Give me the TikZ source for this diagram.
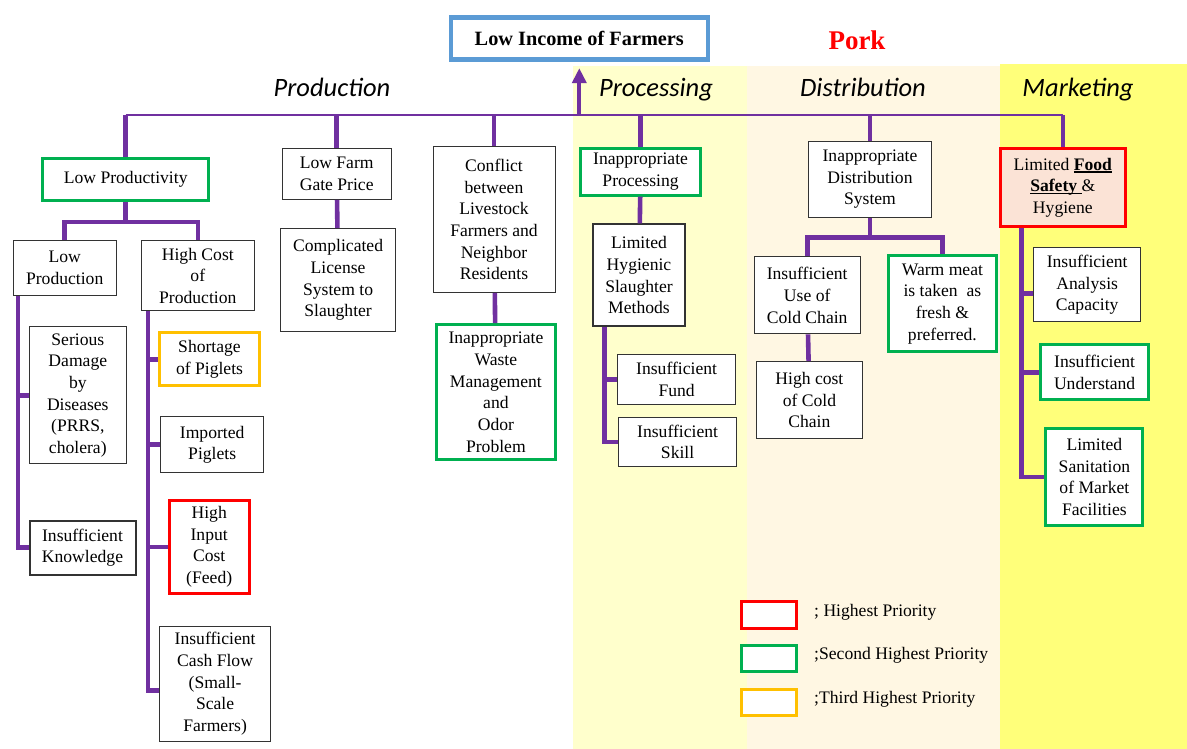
\documentclass[tikz,border=0pt]{standalone}
\usepackage{fontspec}
\setmainfont{Liberation Serif}
\newfontfamily\headfont{Carlito}
\usetikzlibrary{arrows.meta}

\definecolor{treepurple}{HTML}{7030A0}
\definecolor{prigreen}{HTML}{00B050}
\definecolor{prired}{HTML}{FF0000}
\definecolor{priorange}{HTML}{FFC000}
\definecolor{topblue}{HTML}{5B9BD5}
\definecolor{procband}{HTML}{FFFFCC}
\definecolor{distband}{HTML}{FFF7E3}
\definecolor{markband}{HTML}{FFFF7A}
\definecolor{safetyfill}{HTML}{FBE3D6}

% underline sitting just under the baseline
\newcommand\baseul[1]{\setbox0=\hbox{#1}\rlap{\rule[-2.6pt]{\wd0}{1.3pt}}\box0}

\begin{document}
\begin{tikzpicture}[x=1pt,y=-1pt,
  cause/.style={draw=black!80, line width=1pt, fill=white, align=center, inner sep=0pt,
    font=\fontsize{17.6}{21.7}\selectfont},
  topprio/.style={cause, draw=prired, line width=3pt},
  secondprio/.style={cause, draw=prigreen, line width=3pt},
  thirdprio/.style={cause, draw=priorange, line width=3pt},
  bus/.style={draw=treepurple, line width=2.7pt},
  branch/.style={draw=treepurple, line width=4.6pt},
  stage/.style={anchor=base, font=\headfont\itshape\fontsize{26.5}{30}\selectfont},
  key/.style={anchor=west, inner sep=0pt, font=\fontsize{17.6}{21.7}\selectfont}]

\useasboundingbox (0,0) rectangle (1187,749);
\fill[white] (0,0) rectangle (1187,749);
\fill[procband] (573,66) rectangle (747,749);
\fill[distband] (747,66) rectangle (1000,749);
\fill[markband] (1000,64) rectangle (1187,749);

\node[cause, draw=topblue, line width=4.5pt, minimum width=257, minimum height=42,
  font=\bfseries\fontsize{20.3}{24}\selectfont] (income) at (579.3,38.4) {Low Income of Farmers};
\node[font=\bfseries\fontsize{27}{30}\selectfont, text=prired] (pork) at (857,40) {Pork};

\node[stage] (production) at (332,96.5) {Production};
\node[stage] (processing) at (656,96.5) {Processing};
\node[stage] (distribution) at (863,96.5) {Distribution};
\node[stage] (marketing) at (1078,96.5) {Marketing};

% production
\node[secondprio, minimum width=166, minimum height=42] (lowprod) at (125.7,179.4) {Low Productivity};
\node[cause, minimum width=103, minimum height=55] (lowprodn) at (64.7,267.5) {Low\\Production};
\node[cause, minimum width=113.5, minimum height=70] (highcost) at (197.8,275.9) {High Cost\\of\\Production};
\node[cause, minimum width=96.5, minimum height=137.3] (disease) at (77.8,395.3) {Serious\\Damage\\by\\Diseases\\(PRRS,\\cholera)};
\node[cause, line width=2pt, minimum width=106, minimum height=54] (knowledge) at (82.5,547.7) {Insufficient\\Knowledge};
\node[thirdprio, minimum width=100.7, minimum height=53] (piglets) at (209.5,359.3) {Shortage\\of Piglets};
\node[cause, minimum width=103, minimum height=56] (imported) at (212.2,444.7) {Imported\\Piglets};
\node[topprio, minimum width=80, minimum height=92.7] (feed) at (209.2,546.9) {High\\Input\\Cost\\(Feed)};
\node[cause, minimum width=111, minimum height=115.3] (cashflow) at (215.1,683.7) {Insufficient\\Cash Flow\\(Small-\\Scale\\Farmers)};
\node[cause, minimum width=108.6, minimum height=50.6] (gateprice) at (336.7,174) {Low Farm\\Gate Price};
\node[cause, minimum width=115, minimum height=102.6] (license) at (338.1,280) {Complicated\\License\\System to\\Slaughter};
\node[cause, minimum width=122, minimum height=145.6] (conflict) at (494,219.5) {Conflict\\between\\Livestock\\Farmers and\\Neighbor\\Residents};
\node[secondprio, minimum width=119, minimum height=135] (waste) at (495.9,392.2) {Inappropriate\\Waste\\Management\\and\\Odor\\Problem};

% processing
\node[secondprio, minimum width=120.6, minimum height=47] (inproc) at (640.6,171.7) {Inappropriate\\Processing};
\node[cause, line width=2pt, minimum width=92.2, minimum height=101.7] (hygienic) at (639,275.3) {Limited\\Hygienic\\Slaughter\\Methods};
\node[cause, minimum width=118, minimum height=50] (fund) at (676.6,379.3) {Insufficient\\Fund};
\node[cause, minimum width=118.4, minimum height=49.4] (skill) at (677.6,442) {Insufficient\\Skill};

% distribution
\node[cause, minimum width=123.2, minimum height=76] (distsys) at (870,179.3) {Inappropriate\\Distribution\\System};
\node[cause, minimum width=106.4, minimum height=77.3] (colduse) at (807.2,295.3) {Insufficient\\Use of\\Cold Chain};
\node[cause, minimum width=106.8, minimum height=77] (coldcost) at (809.4,400.2) {High cost\\of Cold\\Chain};
\node[secondprio, minimum width=107.4, minimum height=96.3] (warmmeat) at (942.4,303.7) {Warm meat\\is taken\ \ as\\fresh \&\\preferred.};

% marketing
\node[topprio, fill=safetyfill, minimum width=125, minimum height=78.6] (foodsafety) at (1062.8,187.5)
  {Limited \textbf{\baseul{Food}}\\\textbf{\baseul{Safety\ }}\&\\Hygiene};
\node[cause, minimum width=107.2, minimum height=73.7] (analysis) at (1087.2,284.8) {Insufficient\\Analysis\\Capacity};
\node[secondprio, minimum width=108.6, minimum height=55] (understand) at (1094.6,372.3) {Insufficient\\Understand};
\node[secondprio, minimum width=97, minimum height=96.4] (sanitation) at (1094.4,477) {Limited\\Sanitation\\of Market\\Facilities};

% tree
\coordinate (busw) at (125.7,115);
\coordinate (buse) at (1062.8,115);
\draw[bus] (busw) -- (buse);
\draw[-{Triangle[width=14pt,length=15pt]}, treepurple, line width=4pt, shorten >=6.5pt]
  (income.south |- busw) -- (income.south);
\foreach \n in {lowprod,gateprice,conflict,inproc,distsys,foodsafety}
  \draw[branch] (\n.north |- busw) -- (\n.north);

\coordinate (lpfork) at (125.7,222);
\draw[branch] (lowprod.south) -- (lpfork);
\draw[branch] (lowprodn.north) |- (lpfork) -| (highcost.north);

\coordinate (lpspine) at ([xshift=5.4pt]lowprodn.south west);
\draw[branch] (lpspine) |- (knowledge.west);
\draw[branch] (disease.west) -- (disease.west -| lpspine);

\coordinate (hcspine) at ([xshift=7.5pt]highcost.south west);
\draw[branch] (hcspine) |- ([yshift=-7pt]cashflow.west);
\foreach \n in {piglets,imported,feed}
  \draw[branch] (\n.west) -- (\n.west -| hcspine);

\draw[branch] (gateprice) -- (license);
\draw[branch] (conflict) -- (waste);

\draw[branch] (inproc) -- (hygienic);
\coordinate (hyspine) at ([xshift=12.6pt]hygienic.south west);
\draw[branch] (hyspine) |- (skill.west);
\draw[branch] (fund.west) -- (fund.west -| hyspine);

\coordinate (dsfork) at (870,237.3);
\draw[branch] (distsys.south) -- (dsfork);
\draw[branch] (colduse.north) |- (dsfork) -| (warmmeat.north);
\draw[branch] (colduse) -- (coldcost);

\coordinate (fsspine) at ([xshift=22.5pt]foodsafety.south west);
\coordinate (anbranch) at ([yshift=-8.5pt]analysis.west);
\draw[branch] (fsspine) |- (sanitation.west);
\draw[branch] (anbranch) -- (anbranch -| fsspine);
\draw[branch] (understand.west) -- (understand.west -| fsspine);

% priority key
\node[topprio, minimum width=55.4, minimum height=27] (keyred) at (769.2,615) {};
\node[secondprio, minimum width=55.4, minimum height=26.3] (keygreen) at (769.2,658.7) {};
\node[thirdprio, minimum width=55.4, minimum height=26] (keyorange) at (769.2,702.8) {};
\node[key] (keyredtext) at (814,612.3) {; Highest Priority};
\node[key] (keygreentext) at (814,655) {;Second Highest Priority};
\node[key] (keyorangetext) at (814,699) {;Third Highest Priority};
\end{tikzpicture}
\end{document}
